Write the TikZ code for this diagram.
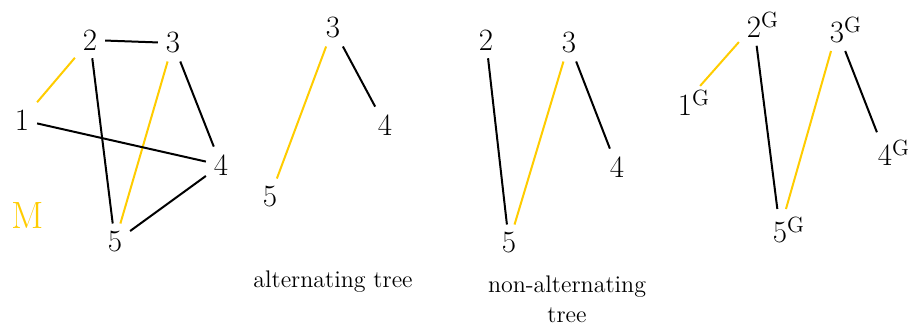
\documentclass[tikz,border=0pt]{standalone}
\usetikzlibrary{positioning}
\definecolor{matched}{HTML}{FFCC00}
\tikzset{
  vtx/.style={font=\fontsize{15.5}{18}\selectfont, inner sep=4pt, outer sep=0pt},
  link/.style={line width=1pt, draw=black},
  mlink/.style={line width=1pt, draw=matched},
  caption/.style={font=\fontsize{12}{15}\selectfont, align=center, inner sep=0pt},
}
\newcommand{\gvtx}[1]{#1\rlap{\raisebox{5pt}{\fontsize{11}{11}\selectfont G}}}

\begin{document}
\begin{tikzpicture}[x=0.5pt, y=-0.5pt]
\useasboundingbox (0,0) rectangle (909,326);

% --- graph with matching M ----------------------------------------------------------
\node[vtx] (m1) at (22,120) {1};
\node[vtx] (m2) at (90,40) {2};
\node[vtx] (m3) at (173,43) {3};
\node[vtx] (m4) at (221,165) {4};
\node[vtx] (m5) at (115,242) {5};
\node[font=\fontsize{19}{22}\selectfont, text=matched, inner sep=0pt] (mname) at (28,216) {M};
\draw[mlink] (m1) -- (m2);
\draw[mlink] (m3) -- (m5);
\draw[link] (m2) -- (m3);
\draw[link] (m2) -- (m5);
\draw[link] (m3) -- (m4);
\draw[link] (m1) -- (m4);
\draw[link] (m5) -- (m4);

% --- alternating tree -----------------------------------------------------------------
\node[vtx] (a3) at (333,28) {3};
\node[vtx] (a4) at (385,125) {4};
\node[vtx] (a5) at (270,197) {5};
\draw[mlink] (a3) -- (a5);
\draw[link] (a3) -- (a4);
\node[caption] (acap) at (333,282) {alternating tree};

% --- non-alternating tree -------------------------------------------------------------
\node[vtx] (n2) at (486,40) {2};
\node[vtx] (n3) at (569,43) {3};
\node[vtx] (n4) at (617,167) {4};
\node[vtx] (n5) at (509,243) {5};
\draw[link] (n2) -- (n5);
\draw[mlink] (n3) -- (n5);
\draw[link] (n3) -- (n4);
\node[caption] (ncap) at (567,299) {non-alternating\\tree};

% --- copy in G ------------------------------------------------------------------------
\node[vtx] (g1) at (685,103) {\gvtx{1}};
\node[vtx] (g2) at (754,25) {\gvtx{2}};
\node[vtx] (g3) at (837,30) {\gvtx{3}};
\node[vtx] (g4) at (885,153) {\gvtx{4}};
\node[vtx] (g5) at (780,230) {\gvtx{5}};
\draw[mlink] (g1) -- (g2);
\draw[link] (g2) -- (g5);
\draw[mlink] (g3) -- (g5);
\draw[link] (g3) -- (g4);

\end{tikzpicture}
\end{document}
